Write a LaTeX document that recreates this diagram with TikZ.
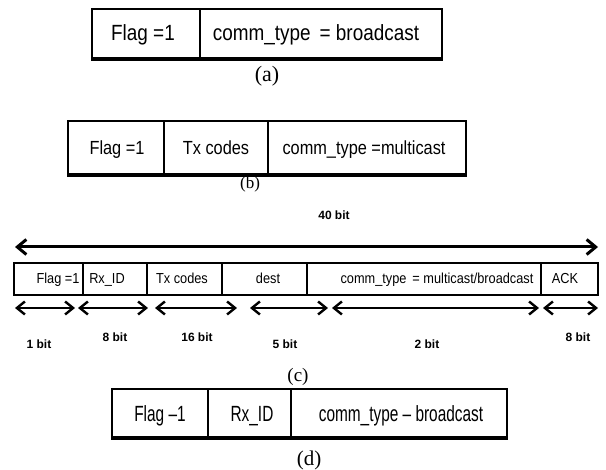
\documentclass[tikz,border=0pt]{standalone}
\usepackage{fontspec}
\setmainfont{Liberation Serif}
\newfontfamily\sansA[FakeStretch=0.86]{Liberation Sans}
\newfontfamily\sansB[FakeStretch=0.86]{Liberation Sans}
\newfontfamily\sansC[FakeStretch=0.88]{Liberation Sans}
\newfontfamily\sansD[FakeStretch=0.70]{Liberation Sans}
\newfontfamily\sansplain{Liberation Sans}
\usetikzlibrary{arrows.meta}
\begin{document}
\begin{tikzpicture}[x=1pt,y=-1pt,
  boxframe/.style={line width=2.4pt},
  boxbottom/.style={line width=4pt},
  divider/.style={line width=1.8pt},
  cframe/.style={line width=1.8pt},
  cdivider/.style={line width=1.4pt},
  txtA/.style={inner sep=0pt, anchor=base, font=\sansA\fontsize{22}{22}\selectfont},
  txtB/.style={inner sep=0pt, anchor=base, font=\sansB\fontsize{19}{19}\selectfont},
  txtC/.style={inner sep=0pt, anchor=base, font=\sansC\fontsize{14.5}{14.5}\selectfont},
  txtD/.style={inner sep=0pt, anchor=base, font=\sansD\fontsize{22}{22}\selectfont},
  bitlabel/.style={inner sep=0pt, font=\sansplain\bfseries\fontsize{12}{12}\selectfont},
  caption/.style={inner sep=0pt},
  dimarrow/.style={line width=2.4pt, {Straight Barb[length=8pt,width=13pt]}-{Straight Barb[length=8pt,width=13pt]}},
  longarrow/.style={line width=3pt, {Straight Barb[length=9pt,width=15pt]}-{Straight Barb[length=9pt,width=15pt]}}
]
\useasboundingbox (0,0) rectangle (606,470);

% ---------- (a) ----------
\draw[boxframe] (92,9) rectangle (442,60);
\draw[boxbottom] (91,59) -- (443,59);
\draw[divider] (200,9) -- (200,60);
\node[txtA] (a1) at (143,41) {Flag =1};
\node[txtA] (a2) at (316,41) {comm\_type\, = broadcast};
\node[caption, font=\fontsize{22}{22}\selectfont] (capa) at (267,76) {(a)};

% ---------- (b) ----------
\draw[boxframe] (68,121) rectangle (466,176);
\draw[boxbottom] (67,175) -- (467,175);
\draw[divider] (164,121) -- (164,176);
\draw[divider] (268,121) -- (268,176);
\node[txtB] (b1) at (117,155) {Flag =1};
\node[txtB] (b2) at (216,155) {Tx codes};
\node[txtB] (b3) at (364,155) {comm\_type =multicast};
\node[caption, font=\fontsize{17}{17}\selectfont] (capb) at (250,184) {(b)};

% ---------- (c) ----------
\node[bitlabel] (total) at (334,215) {40 bit};
\coordinate (L1) at (15,247);
\coordinate (L2) at (598,247);
\draw[longarrow] (L1) -- (L2);

\draw[cframe] (14,263) rectangle (598,295);
\foreach \x in {83,147,222,307,541} \draw[cdivider] (\x,263) -- (\x,295);
\node[txtC] (c1) at (58,284) {Flag =1};
\node[txtC] (c2) at (107,284) {Rx\_ID};
\node[txtC] (c3) at (182,284) {Tx codes};
\node[txtC] (c4) at (268,284) {dest};
\node[txtC] (c5) at (437,284) {comm\_type\, = multicast/broadcast};
\node[txtC] (c6) at (565,284) {ACK};

\coordinate (s1a) at (15,308);  \coordinate (s1b) at (75,308);
\coordinate (s2a) at (78,308);  \coordinate (s2b) at (148,308);
\coordinate (s3a) at (155,308); \coordinate (s3b) at (237,308);
\coordinate (s4a) at (250,308); \coordinate (s4b) at (328,308);
\coordinate (s5a) at (332,308); \coordinate (s5b) at (539,308);
\coordinate (s6a) at (543,308); \coordinate (s6b) at (598,308);
\draw[dimarrow] (s1a) -- (s1b);
\draw[dimarrow] (s2a) -- (s2b);
\draw[dimarrow] (s3a) -- (s3b);
\draw[dimarrow] (s4a) -- (s4b);
\draw[dimarrow] (s5a) -- (s5b);
\draw[dimarrow] (s6a) -- (s6b);

\node[bitlabel] (w1) at (39,344) {1 bit};
\node[bitlabel] (w2) at (115,337) {8 bit};
\node[bitlabel] (w3) at (197,337) {16 bit};
\node[bitlabel] (w4) at (285,344) {5 bit};
\node[bitlabel] (w5) at (427,344) {2 bit};
\node[bitlabel] (w6) at (578,337) {8 bit};
\node[caption, font=\fontsize{19}{19}\selectfont] (capc) at (298,377) {(c)};

% ---------- (d) ----------
\draw[boxframe] (112,389) rectangle (507,439);
\draw[boxbottom] (111,438) -- (508,438);
\draw[divider] (208,389) -- (208,439);
\draw[divider] (291,389) -- (291,439);
\node[txtD] (d1) at (160,422) {Flag –1};
\node[txtD] (d2) at (252,422) {Rx\_ID};
\node[txtD] (d3) at (401,422) {comm\_type – broadcast};
\node[caption, font=\fontsize{21}{21}\selectfont] (capd) at (309,460) {(d)};
\end{tikzpicture}
\end{document}
